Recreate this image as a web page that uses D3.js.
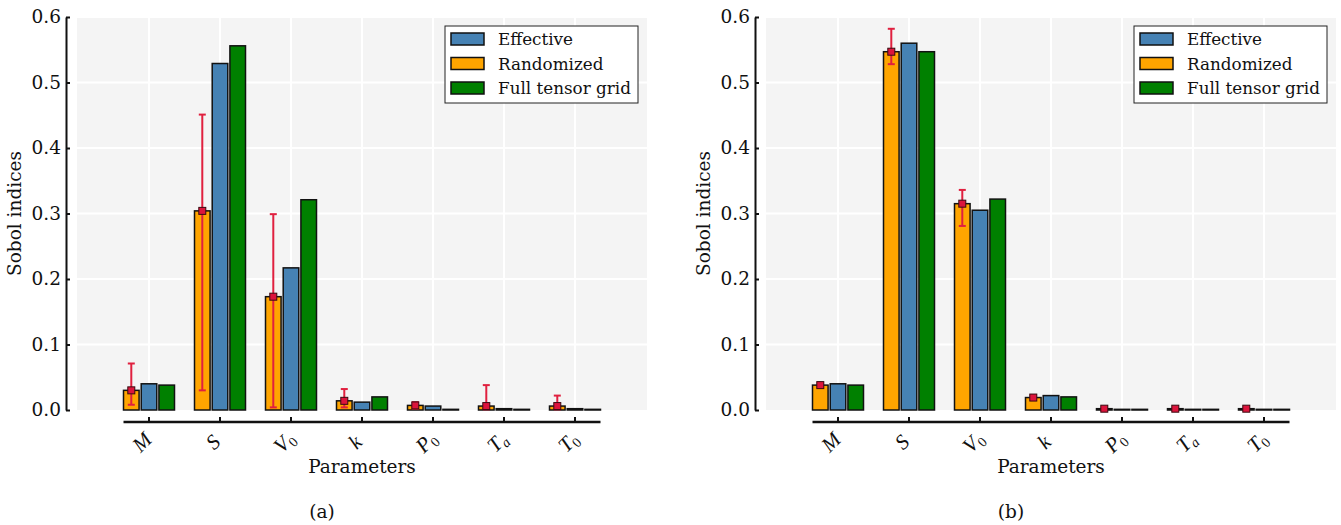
<!DOCTYPE html>
<html>
<head>
  <script src="https://d3js.org/d3.v7.min.js"></script>
  <style>
    body { margin: 0; background: #fff; }
    text { font-family: "DejaVu Serif", serif; fill: #111; }
    .tick text { font-size: 18.5px; }
    .math { font-family: "Liberation Serif", serif; font-style: italic; font-size: 21px; }
  </style>
</head>
<body>
  <svg id="chart" width="1341" height="525"></svg>
  <script>
    // categories and tick labels
    var params = ['M', 'S', 'V0', 'k', 'P0', 'Ta', 'T0'];
    var paramBase = ['M', 'S', 'V', 'k', 'P', 'T', 'T'];
    var paramSub = ['', '', '0', '', '0', 'a', '0'];
    var yTicks = [0, 0.1, 0.2, 0.3, 0.4, 0.5, 0.6];
    var seriesNames = ['Randomized', 'Effective', 'Full tensor grid'];
    var legendOrder = ['Effective', 'Randomized', 'Full tensor grid'];

    // panel (a)
    var randA = [0.030, 0.304, 0.173, 0.014, 0.007, 0.006, 0.006];
    var randLoA = [0.008, 0.030, 0.004, 0.004, 0.002, 0.001, 0.001];
    var randHiA = [0.071, 0.451, 0.299, 0.032, 0.012, 0.038, 0.022];
    var effA = [0.040, 0.529, 0.217, 0.012, 0.006, 0.002, 0.002];
    var fullA = [0.038, 0.556, 0.321, 0.020, 0.001, 0.001, 0.001];

    // panel (b)
    var randB = [0.038, 0.547, 0.315, 0.019, 0.002, 0.002, 0.002];
    var randLoB = [0.035, 0.528, 0.281, 0.016, 0.000, 0.000, 0.000];
    var randHiB = [0.041, 0.582, 0.336, 0.022, 0.004, 0.003, 0.003];
    var effB = [0.040, 0.560, 0.305, 0.022, 0.001, 0.001, 0.001];
    var fullB = [0.038, 0.547, 0.322, 0.020, 0.001, 0.001, 0.001];

    var colors = { 'Effective': '#4682b4', 'Randomized': '#ffa500', 'Full tensor grid': '#008000' };
    var svg = d3.select('#chart');

    function drawPanel(x0, label, rand, lo, hi, eff, full) {
      var bgW = 570;
      var top = 17, bottom = 410;
      var g = svg.append('g');

      var x = d3.scalePoint().domain(params).range([x0 + 72, x0 + bgW - 72]);
      var xs = d3.scaleBand().domain(seriesNames).range([-25.5, 25.5]).paddingInner(0.12);
      var y = d3.scaleLinear().domain([0, 0.6]).range([bottom, top]);

      // background + grid
      g.append('rect').attr('x', x0).attr('y', top)
        .attr('width', bgW).attr('height', bottom - top).attr('fill', '#f4f4f4');
      g.selectAll('.hg').data(yTicks.slice(1)).enter().append('line')
        .attr('x1', x0).attr('x2', x0 + bgW)
        .attr('y1', function (d) { return y(d); }).attr('y2', function (d) { return y(d); })
        .attr('stroke', '#fff').attr('stroke-width', 2);
      g.selectAll('.vg').data(params).enter().append('line')
        .attr('x1', function (d) { return x(d); }).attr('x2', function (d) { return x(d); })
        .attr('y1', top).attr('y2', bottom)
        .attr('stroke', '#fff').attr('stroke-width', 2);

      // bars
      var rows = [];
      params.forEach(function (p, i) {
        rows.push({ p: p, s: 'Randomized', v: rand[i] });
        rows.push({ p: p, s: 'Effective', v: eff[i] });
        rows.push({ p: p, s: 'Full tensor grid', v: full[i] });
      });
      g.selectAll('.bar').data(rows).enter().append('rect')
        .attr('x', function (d) { return x(d.p) + xs(d.s); })
        .attr('y', function (d) { return y(d.v); })
        .attr('width', xs.bandwidth())
        .attr('height', function (d) { return bottom - y(d.v); })
        .attr('fill', function (d) { return colors[d.s]; })
        .attr('stroke', '#111').attr('stroke-width', 1.5);

      // error bars on randomized
      var cx = function (i) { return x(params[i]) + xs('Randomized') + xs.bandwidth() / 2; };
      var err = g.selectAll('.err').data(rand).enter().append('g');
      err.append('line')
        .attr('x1', function (d, i) { return cx(i); }).attr('x2', function (d, i) { return cx(i); })
        .attr('y1', function (d, i) { return y(lo[i]); }).attr('y2', function (d, i) { return y(hi[i]); })
        .attr('stroke', '#e0203f').attr('stroke-width', 2);
      [lo, hi].forEach(function (arr) {
        err.append('line')
          .attr('x1', function (d, i) { return cx(i) - 3.5; }).attr('x2', function (d, i) { return cx(i) + 3.5; })
          .attr('y1', function (d, i) { return y(arr[i]); }).attr('y2', function (d, i) { return y(arr[i]); })
          .attr('stroke', '#e0203f').attr('stroke-width', 2);
      });
      err.append('rect')
        .attr('x', function (d, i) { return cx(i) - 3.5; })
        .attr('y', function (d) { return y(d) - 3.5; })
        .attr('width', 7).attr('height', 7)
        .attr('fill', '#dc143c').attr('stroke', '#3a0a10').attr('stroke-width', 1);

      // y axis (ticks inward)
      var yAxis = g.append('g').attr('transform', 'translate(' + (x0 - 11) + ',0)')
        .call(d3.axisLeft(y).tickValues(yTicks).tickFormat(d3.format('.1f'))
          .tickSizeInner(-4).tickSizeOuter(0).tickPadding(5));
      yAxis.select('.domain').attr('stroke', '#111').attr('stroke-width', 2);
      yAxis.selectAll('.tick line').attr('stroke', '#111').attr('stroke-width', 2);

      // x axis, trimmed to the bars
      var xa0 = x(params[0]) - 25.5, xa1 = x(params[params.length - 1]) + 25.5;
      g.append('line').attr('x1', xa0).attr('x2', xa1).attr('y1', 422).attr('y2', 422)
        .attr('stroke', '#111').attr('stroke-width', 2.5);
      g.selectAll('.xt').data(params).enter().append('line')
        .attr('x1', function (d) { return x(d); }).attr('x2', function (d) { return x(d); })
        .attr('y1', 422).attr('y2', 417)
        .attr('stroke', '#111').attr('stroke-width', 2);
      var lab = g.selectAll('.xl').data(params).enter().append('text')
        .attr('class', 'math')
        .attr('text-anchor', 'middle')
        .attr('transform', function (d) { return 'translate(' + (x(d) - 2) + ',447) rotate(-45)'; });
      lab.append('tspan').text(function (d, i) { return paramBase[i]; });
      lab.append('tspan')
        .attr('dy', 4).attr('font-size', 14)
        .attr('font-style', function (d, i) { return paramSub[i] === 'a' ? 'italic' : 'normal'; })
        .text(function (d, i) { return paramSub[i]; });

      // axis titles
      g.append('text').attr('x', x0 + bgW / 2).attr('y', 473)
        .attr('text-anchor', 'middle').attr('font-size', 18.5).text('Parameters');
      g.append('text')
        .attr('transform', 'translate(' + (x0 - 56) + ',' + ((top + bottom) / 2) + ') rotate(-90)')
        .attr('text-anchor', 'middle').attr('font-size', 18.5).text('Sobol indices');
      g.append('text').attr('x', x0 + bgW / 2 - 40).attr('y', 518)
        .attr('text-anchor', 'middle').attr('font-size', 18.5).text(label);

      // legend
      var lx = x0 + bgW - 9 - 193, ly = 26;
      var leg = g.append('g').attr('transform', 'translate(' + lx + ',' + ly + ')');
      leg.append('rect').attr('width', 193).attr('height', 77)
        .attr('fill', '#fff').attr('stroke', '#222').attr('stroke-width', 1);
      var item = leg.selectAll('.li').data(legendOrder).enter().append('g')
        .attr('transform', function (d, i) { return 'translate(0,' + (13 + i * 24.5) + ')'; });
      item.append('rect').attr('x', 6).attr('y', -6).attr('width', 33).attr('height', 12)
        .attr('fill', function (d) { return colors[d]; })
        .attr('stroke', '#111').attr('stroke-width', 1.5);
      item.append('text').attr('x', 53).attr('y', 6)
        .attr('font-size', 16.8).text(function (d) { return d; });
    }

    drawPanel(77, '(a)', randA, randLoA, randHiA, effA, fullA);
    drawPanel(766, '(b)', randB, randLoB, randHiB, effB, fullB);
  </script>
</body>
</html>
